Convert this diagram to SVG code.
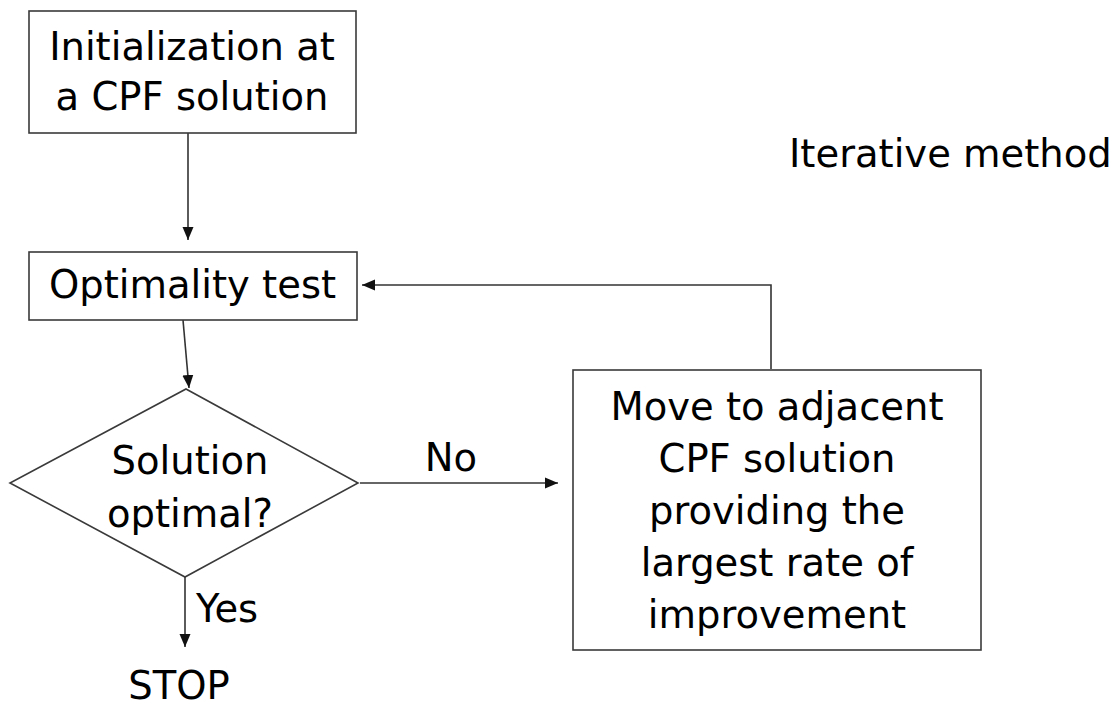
<svg xmlns="http://www.w3.org/2000/svg" width="1119" height="707" viewBox="0 0 1119 707">
<style>
.box{fill:#fff;stroke:#3a3a3a;stroke-width:1.6}
.t{font-family:"DejaVu Sans","Verdana",sans-serif;font-size:38.5px;fill:#000}
.c{text-anchor:middle}
.ln{fill:none;stroke:#333;stroke-width:1.6}
</style>
<defs>
<marker id="ah" markerUnits="userSpaceOnUse" markerWidth="14" markerHeight="12" refX="13" refY="6" orient="auto">
<path d="M0,0.5 L13,6 L0,11.5 Z" fill="#111"/>
</marker>
</defs>
<rect width="1119" height="707" fill="#fff"/>
<g id="connectors">
<line class="ln" x1="188" y1="133" x2="188" y2="240" marker-end="url(#ah)"/>
<line class="ln" x1="183" y1="320" x2="189" y2="388" marker-end="url(#ah)"/>
<line class="ln" x1="185" y1="577" x2="185" y2="647" marker-end="url(#ah)"/>
<line class="ln" x1="360" y1="483" x2="558" y2="483" marker-end="url(#ah)"/>
<polyline class="ln" points="771,369 771,285 362,285" marker-end="url(#ah)"/>
<text class="t" x="196" y="622">Yes</text>
<text class="t c" x="451" y="471">No</text>
</g>
<g id="init">
<rect class="box" x="29" y="11" width="327" height="122"/>
<text class="t c" x="192" y="60">Initialization at</text>
<text class="t c" x="192" y="110">a CPF solution</text>
</g>
<g id="optimality-test">
<rect class="box" x="29" y="252" width="328" height="68"/>
<text class="t c" x="192.5" y="298">Optimality test</text>
</g>
<g id="decision">
<polygon class="box" points="186,389 358,483 185,577 10,483"/>
<text class="t c" x="190" y="474">Solution</text>
<text class="t c" x="190" y="527">optimal?</text>
</g>
<g id="stop">
<text class="t c" x="179" y="699">STOP</text>
</g>
<g id="move">
<rect class="box" x="573" y="370" width="408" height="280"/>
<text class="t c" x="777" y="420">Move to adjacent</text>
<text class="t c" x="777" y="472">CPF solution</text>
<text class="t c" x="777" y="524">providing the</text>
<text class="t c" x="777" y="576">largest rate of</text>
<text class="t c" x="777" y="628">improvement</text>
</g>
<g id="title">
<text class="t" x="789" y="167">Iterative method</text>
</g>
</svg>
